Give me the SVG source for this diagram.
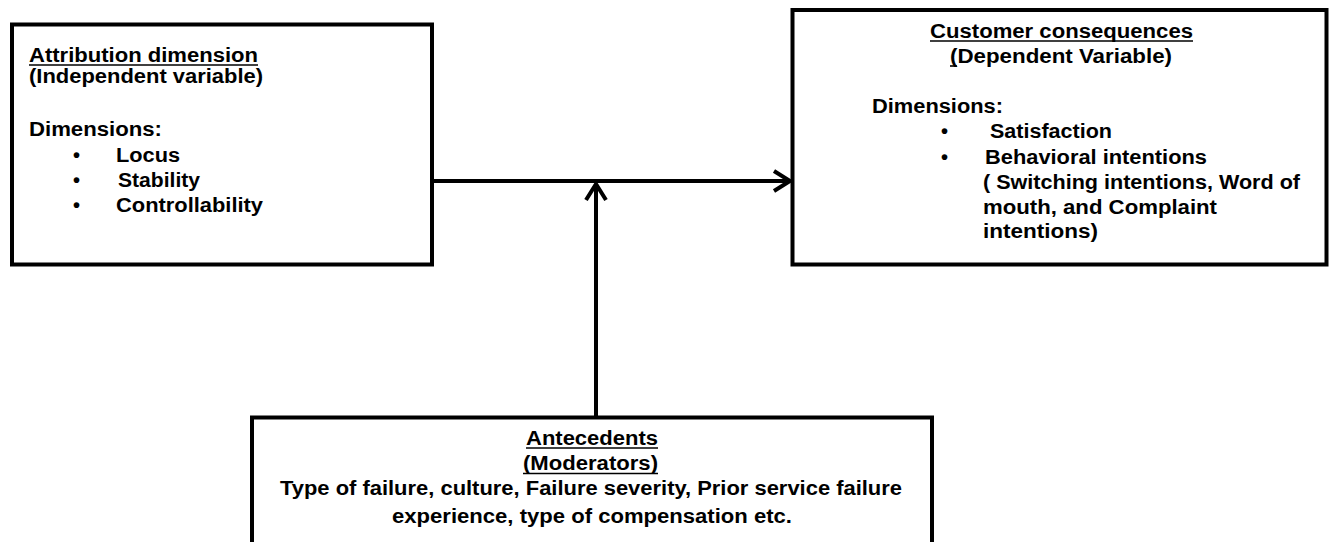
<svg xmlns="http://www.w3.org/2000/svg" width="1331" height="542" viewBox="0 0 1331 542">
<style>
.box{fill:#fff;stroke:#000;stroke-width:4}
.t{font-family:"Liberation Sans",Arial,sans-serif;font-weight:bold;font-size:20px;fill:#000}
.ul{stroke:#000;stroke-width:1.6}
.ln{fill:none;stroke:#000;stroke-width:4}
</style>
<defs>
<marker id="ah" markerWidth="22" markerHeight="24" refX="18" refY="12" orient="auto" markerUnits="userSpaceOnUse">
<path d="M2,2 L18,12 L2,22" fill="none" stroke="#000" stroke-width="4"/>
</marker>
</defs>
<rect width="1331" height="542" fill="#fff"/>
<g id="connectors">
<line class="ln" x1="432" y1="181" x2="790" y2="181" marker-end="url(#ah)"/>
<line class="ln" x1="596" y1="416" x2="596" y2="184" marker-end="url(#ah)"/>
</g>
<g id="attribution">
<rect class="box" x="12" y="24.5" width="420" height="240"/>
<text class="t" x="29" y="62" textLength="229" lengthAdjust="spacingAndGlyphs">Attribution dimension</text>
<line class="ul" x1="29" y1="65" x2="258" y2="65"/>
<text class="t" x="29" y="83" textLength="234" lengthAdjust="spacingAndGlyphs">(Independent variable)</text>
<text class="t" x="29" y="136" textLength="133" lengthAdjust="spacingAndGlyphs">Dimensions:</text>
<text class="t" x="73" y="162">•</text>
<text class="t" x="116" y="162" textLength="64" lengthAdjust="spacingAndGlyphs">Locus</text>
<text class="t" x="73" y="187">•</text>
<text class="t" x="118" y="187" textLength="82" lengthAdjust="spacingAndGlyphs">Stability</text>
<text class="t" x="73" y="212">•</text>
<text class="t" x="116" y="212" textLength="147" lengthAdjust="spacingAndGlyphs">Controllability</text>
</g>
<g id="consequences">
<rect class="box" x="792.5" y="10" width="534" height="254.5"/>
<text class="t" x="930" y="38" textLength="263" lengthAdjust="spacingAndGlyphs">Customer consequences</text>
<line class="ul" x1="930" y1="41" x2="1193" y2="41"/>
<text class="t" x="950" y="63" textLength="222" lengthAdjust="spacingAndGlyphs">(Dependent Variable)</text>
<line class="ul" x1="950" y1="66" x2="957" y2="66"/>
<text class="t" x="872" y="113" textLength="131" lengthAdjust="spacingAndGlyphs">Dimensions:</text>
<text class="t" x="941" y="138">•</text>
<text class="t" x="990" y="138" textLength="122" lengthAdjust="spacingAndGlyphs">Satisfaction</text>
<text class="t" x="941" y="164">•</text>
<text class="t" x="985" y="164" textLength="222" lengthAdjust="spacingAndGlyphs">Behavioral intentions</text>
<text class="t" x="983" y="189" textLength="317" lengthAdjust="spacingAndGlyphs">( Switching intentions, Word of</text>
<text class="t" x="983" y="214" textLength="234" lengthAdjust="spacingAndGlyphs">mouth, and Complaint</text>
<text class="t" x="983" y="238" textLength="115" lengthAdjust="spacingAndGlyphs">intentions)</text>
</g>
<g id="antecedents">
<rect class="box" x="252" y="417.5" width="680" height="140"/>
<text class="t" x="526" y="445" textLength="132" lengthAdjust="spacingAndGlyphs">Antecedents</text>
<line class="ul" x1="526" y1="448" x2="658" y2="448"/>
<text class="t" x="523" y="470" textLength="135" lengthAdjust="spacingAndGlyphs">(Moderators)</text>
<line class="ul" x1="523" y1="473.5" x2="658" y2="473.5"/>
<text class="t" x="280" y="495" textLength="622" lengthAdjust="spacingAndGlyphs">Type of failure, culture, Failure severity, Prior service failure</text>
<text class="t" x="392" y="523" textLength="400" lengthAdjust="spacingAndGlyphs">experience, type of compensation etc.</text>
</g>
</svg>
